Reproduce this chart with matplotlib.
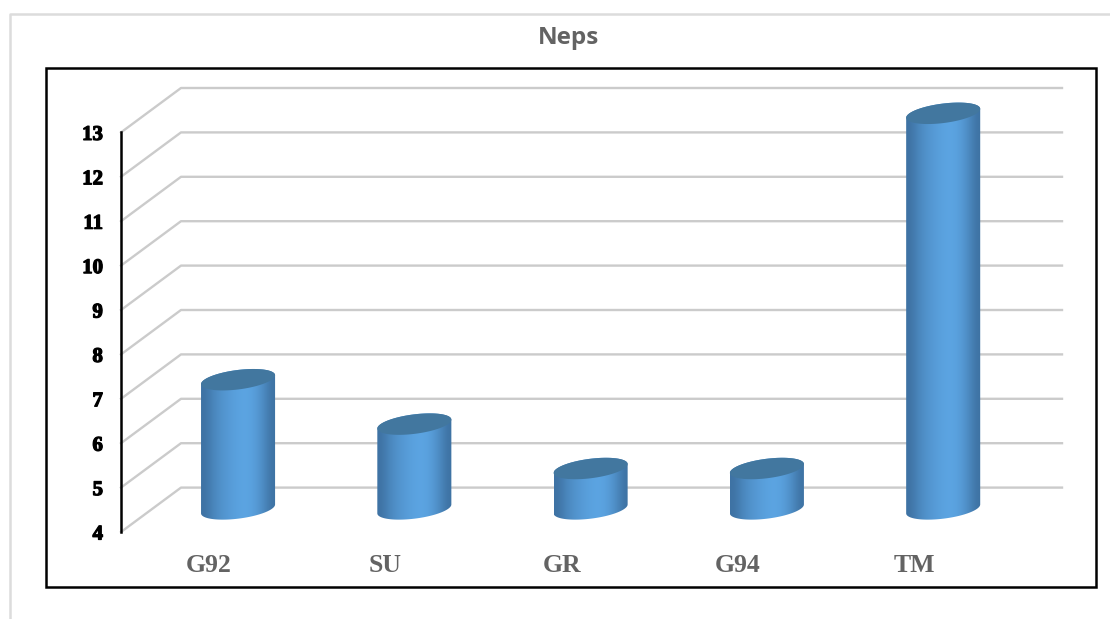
import numpy as np
import matplotlib
matplotlib.use("Agg")
import matplotlib.pyplot as plt
import matplotlib.patheffects as pe
from matplotlib.patches import PathPatch, Rectangle
from matplotlib.path import Path

W, H = 1110, 619

categories = ["G92", "SU", "GR", "G94", "TM"]
values = [7, 6, 5, 5, 13]
y_ticks = [4, 5, 6, 7, 8, 9, 10, 11, 12, 13]


def bar_outlines(x, top):
    """Outline of the cylinder body and of its top cap, in data units."""
    half_w, half_h, shear = 0.21, 0.22, 0.10
    lift_top, lift_base = 0.43, 0.52
    t = np.linspace(0, 2 * np.pi, 121)
    ex = x + half_w * np.cos(t)
    ey = half_h * np.sin(t) + shear * np.cos(t)
    cap = np.column_stack((ex, ey + top + lift_top))
    # lower half of the bottom ellipse, upper half of the top one
    low = np.column_stack((ex[60:121], ey[60:121] + 4 + lift_base))
    up = np.column_stack((ex[:61], ey[:61] + top + lift_top))
    return np.vstack((low, up)), cap


fig = plt.figure(figsize=(W / 100, H / 100), dpi=100, facecolor="white")

# frames, in figure pixels
frame = fig.add_axes([0, 0, 1, 1])
frame.set_xlim(0, W)
frame.set_ylim(H, 0)
frame.axis("off")
frame.plot([10, 10, 1110], [619, 13.5, 13.5], color="#dcdcdc", lw=1.8)
frame.add_patch(Rectangle((46, 68), 1050, 519, fill=False, ec="black", lw=1.8))
frame.text(568, 38.5, "Neps", ha="center", va="center", fontsize=17.5,
           fontweight="bold", color="#636363", family="Open Sans")

# plot axes: front wall at x=121, back wall ends at x=1062
x_left, x_right = -0.664, 4.674
ax = fig.add_axes([121 / W, 1 - 532 / H, (1062 - 121) / W, (532 - 88) / H])
ax.patch.set_alpha(0)
ax.set_xlim(x_left, x_right)
ax.set_ylim(4, 14)
for side in ["top", "right", "bottom"]:
    ax.spines[side].set_visible(False)
ax.spines["left"].set_bounds(4, 13)
ax.spines["left"].set_linewidth(1.8)
ax.set_xticks([])
ax.set_yticks(y_ticks)
ax.tick_params(axis="y", length=0, pad=13)
for lab in ax.get_yticklabels():
    lab.set_family("Liberation Serif")
    lab.set_fontweight("bold")
    lab.set_fontsize(15)
    lab.set_color("black")
    lab.set_path_effects([pe.withStroke(linewidth=0.9, foreground="black")])

depth = 60 / 176.3
for v in y_ticks:
    ax.plot([x_left, x_left + depth, x_right], [v, v + 1, v + 1],
            color="#cbcbcb", lw=1.7, zorder=1, clip_on=False)

gradient = np.array([0.0, 0.4, 0.65, 0.82, 0.95, 1.0, 0.85, 0.5, 0.0])
c_dark = np.array([0x3e, 0x72, 0xa3]) / 255
c_light = np.array([0x5c, 0xa5, 0xe3]) / 255
rgb = c_dark + (c_light - c_dark) * gradient[:, None]
rgb = rgb[None, :, :]

for i, (cat, val) in enumerate(zip(categories, values)):
    body, cap = bar_outlines(i, val)
    patch = PathPatch(Path(body), fc="none", ec="none", zorder=2)
    ax.add_patch(patch)
    img = ax.imshow(rgb, extent=(i - 0.21, i + 0.21, 4, val + 1), aspect="auto",
                    interpolation="bicubic", zorder=2)
    img.set_clip_path(patch)
    ax.add_patch(PathPatch(Path(cap), fc="#42779f", ec="none", zorder=3))
    ax.annotate(cat, (i, 4), xytext=(-29, -33), textcoords="offset pixels",
                ha="center", va="center", fontsize=18.5, fontweight="bold",
                family="Liberation Serif", color="#636363", annotation_clip=False)

ax.set_xlim(x_left, x_right)
ax.set_ylim(4, 14)

fig.savefig("out.png", dpi=100)
